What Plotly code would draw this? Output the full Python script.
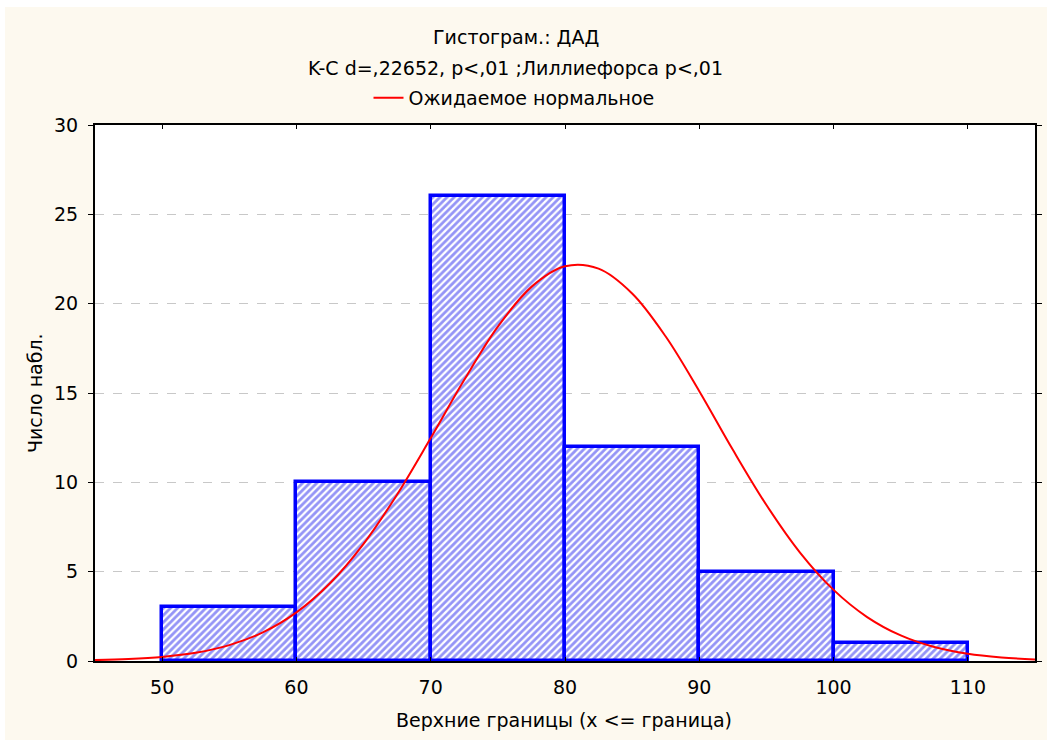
import plotly.graph_objects as go

# Histogram bins (lower bounds, width 10) and counts
bin_lower = [50, 60, 70, 80, 90, 100]
counts = [3, 10, 26, 12, 5, 1]
bin_width = 10

# Expected normal curve
curve_x = [45, 47.5, 50, 52.5, 55, 57.5, 60, 62.5, 65, 67.5, 70, 72.5, 75, 77.5,
           80, 82.5, 85, 87.5, 90, 92.5, 95, 97.5, 100, 102.5, 105, 107.5,
           110, 112.5, 115]
curve_y = [0.05, 0.11, 0.23, 0.46, 0.89, 1.60, 2.72, 4.35, 6.56, 9.32, 12.48,
           15.74, 18.71, 20.94, 22.09, 21.96, 20.57, 18.16, 15.1, 11.82,
           8.73, 6.07, 3.98, 2.46, 1.43, 0.78, 0.40, 0.20, 0.09]

x_ticks = [50, 60, 70, 80, 90, 100, 110]
y_ticks = [0, 5, 10, 15, 20, 25, 30]

title1 = "Гистограм.: ДАД"
title2 = "K-C d=,22652, p<,01 ;Лиллиефорса p<,01"
legend_name = "Ожидаемое нормальное"
x_title = "Верхние границы (x <= граница)"
y_title = "Число набл."

FONT = "DejaVu Sans, Liberation Sans, Arial, sans-serif"
FS = 19

fig = go.Figure()
fig.add_trace(go.Bar(
    x=bin_lower, y=counts, width=bin_width, offset=0,
    marker=dict(color="white",
                line=dict(color="#0000FF", width=3.5),
                pattern=dict(shape="/", fgcolor="#2A2AEE", bgcolor="white",
                             size=5, solidity=0.55)),
    showlegend=False,
))
fig.add_trace(go.Scatter(
    x=curve_x, y=curve_y, mode="lines",
    line=dict(color="#FF0000", width=2, shape="spline", smoothing=1),
    name=legend_name, showlegend=True,
))

W, H = 1047, 740
L, R, T, B = 95, 12, 125, 79
pw, ph = W - L - R, H - T - B

def px_x(px):
    return (px - L) / pw

def px_y(py):
    return (H - B - py) / ph

shapes = [
    dict(type="rect", xref="paper", yref="paper", x0=px_x(5), x1=px_x(1050),
         y0=px_y(7), y1=px_y(745), fillcolor="#FDF9EF", line=dict(width=0), layer="below"),
    dict(type="rect", xref="paper", yref="paper", x0=0, x1=1, y0=0, y1=1,
         fillcolor="white", line=dict(width=0), layer="below"),
]

annotations = [
    dict(text=title1, x=px_x(516), y=px_y(37), xref="paper", yref="paper",
         showarrow=False, xanchor="center", yanchor="middle", font=dict(size=FS)),
    dict(text=title2, x=px_x(515), y=px_y(68), xref="paper", yref="paper",
         showarrow=False, xanchor="center", yanchor="middle", font=dict(size=FS)),
    dict(text=x_title, x=px_x(564), y=px_y(720), xref="paper", yref="paper",
         showarrow=False, xanchor="center", yanchor="middle", font=dict(size=FS)),
    dict(text=y_title, x=px_x(35), y=px_y(393), xref="paper", yref="paper",
         showarrow=False, xanchor="center", yanchor="middle", textangle=-90,
         font=dict(size=FS)),
]

fig.update_layout(
    width=W, height=H,
    margin=dict(l=L, r=R, t=T, b=B, autoexpand=False),
    paper_bgcolor="white", plot_bgcolor="white",
    font=dict(family=FONT, size=FS, color="black"),
    shapes=shapes, annotations=annotations,
    bargap=0,
    legend=dict(orientation="h", x=px_x(514), xanchor="center", y=px_y(98),
                yanchor="middle", bgcolor="rgba(0,0,0,0)", font=dict(size=FS),
                itemwidth=30),
    xaxis=dict(range=[45, 115], tickvals=x_ticks, showgrid=False, zeroline=False,
               showline=True, linecolor="black", linewidth=2, mirror="ticks",
               ticks="inside", ticklen=4, tickcolor="black", tickwidth=1,
               ticklabelstandoff=8),
    yaxis=dict(range=[0, 30], tickvals=y_ticks, showgrid=True, gridcolor="#C8C8C8",
               griddash="dash", gridwidth=1, zeroline=False,
               showline=True, linecolor="black", linewidth=2, mirror="ticks",
               ticks="outside", ticklen=5, tickcolor="black", tickwidth=1,
               ticklabelstandoff=6),
)

fig.write_html("out.html")
